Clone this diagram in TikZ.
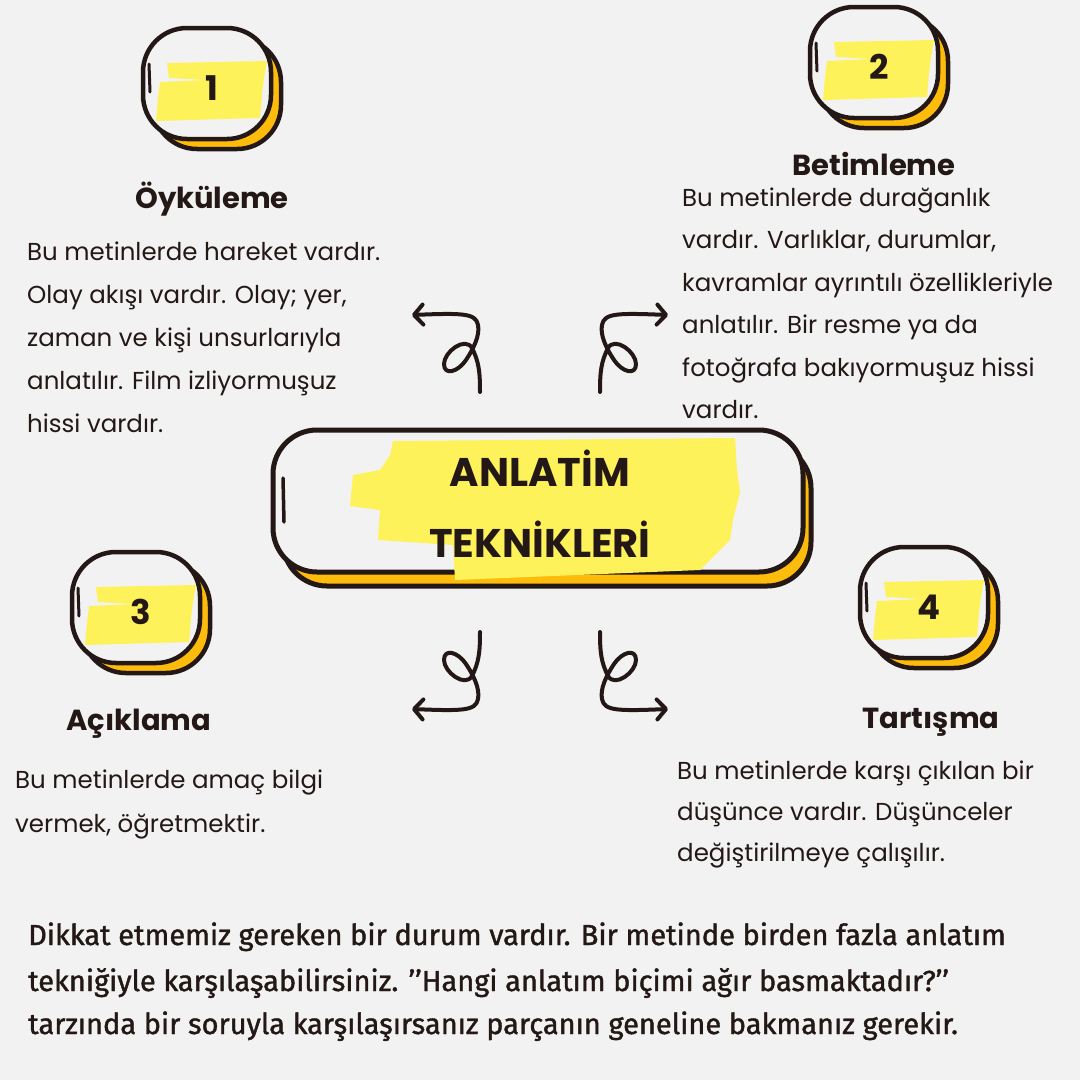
\documentclass[tikz,border=0pt]{standalone}
\usepackage{fontspec}
\setmainfont{Poppins}
\newfontfamily\bottomfont[FakeBold=1.3]{Fira Sans}
\usetikzlibrary{arrows.meta}
\definecolor{paper}{HTML}{F2F2F2}
\definecolor{ink}{HTML}{231815}
\definecolor{hl}{HTML}{FEF25B}
\definecolor{gold}{HTML}{FDBB0C}
\tikzset{
  body/.style={font=\fontsize{24.5}{30}\selectfont, text=ink, anchor=base west, inner sep=0pt},
  ttl/.style={font=\bfseries\fontsize{29}{34}\selectfont, text=ink, anchor=base, inner sep=0pt},
  numtxt/.style={font=\bfseries\fontsize{34}{40}\selectfont, text=ink, inner sep=0pt},
  central/.style={font=\bfseries\fontsize{40}{48}\selectfont, text=ink, anchor=base, inner sep=0pt},
  foot/.style={font=\bottomfont\fontsize{29}{34}\selectfont, text=ink, anchor=base west, inner sep=0pt},
  outline/.style={draw=ink, line width=4.5pt},
  sketch/.style={draw=ink, line width=3pt, line cap=round},
  curly/.style={draw=ink, line width=4pt, line cap=round, line join=round,
    -{Straight Barb[length=9pt,width=20pt,line cap=round,line join=round]}}
}
\newcommand\numbox[4]{%
  \begin{scope}[shift={(#1,#2)}]
    \path[outline, fill=gold, rounded corners=44pt] (10,10) rectangle (138,121);
    \path[outline, fill=paper, rounded corners=44pt] (0,0) rectangle (128,111);
    \fill[hl] (24,35) -- (124,33) -- (121,50) -- (119,66) -- (117,90) -- (13,93)
      -- (15,70) -- (17,54) -- (62,52) -- (26,50) -- cycle;
    \path[sketch] (6,36) -- (7,64);
    \node[numtxt] (#3) at (69,60) {#4};
  \end{scope}}
\newcommand\curlyarrow[2]{%
  \coordinate (#1s) at (480,392);
  \coordinate (#1e) at (412,315);
  \path[curly] (#1s) .. controls (480,372) and (479,362) .. (472,348)
    .. controls (465,336) and (444,352) .. (444,364)
    .. controls (444,376) and (458,372) .. (466,360)
    .. controls (474,348) and (480,335) .. (478,325)
    .. controls (476,313) and (462,313) .. (#1e);}
\begin{document}
\begin{tikzpicture}[x=1pt,y=-1pt]
\fill[paper] (0,0) rectangle (1080,1080);
\useasboundingbox (0,0) rectangle (1080,1080);

% number boxes
\numbox{143}{28}{n1}{1}
\numbox{810}{7}{n2}{2}
\numbox{72}{552}{n3}{3}
\numbox{860}{547}{n4}{4}

% titles
\node[ttl] (t1) at (212,208) {Öyküleme};
\node[ttl] (t2) at (874,175) {Betimleme};
\node[ttl] (t3) at (139,730) {Açıklama};
\node[ttl] (t4) at (931,728) {Tartışma};

% text block 1
\node[body] (a1) at (27,260) {Bu metinlerde hareket vardır.};
\node[body] (a2) at (27,303) {Olay akışı vardır. Olay; yer,};
\node[body] (a3) at (27,346) {zaman ve kişi unsurlarıyla};
\node[body] (a4) at (27,389) {anlatılır. Film izliyormuşuz};
\node[body] (a5) at (27,432) {hissi vardır.};

% text block 2
\node[body] (b1) at (682,206) {Bu metinlerde durağanlık};
\node[body] (b2) at (682,248) {vardır. Varlıklar, durumlar,};
\node[body] (b3) at (682,291) {kavramlar ayrıntılı özellikleriyle};
\node[body] (b4) at (682,333) {anlatılır. Bir resme ya da};
\node[body] (b5) at (682,376) {fotoğrafa bakıyormuşuz hissi};
\node[body] (b6) at (682,418) {vardır.};

% text block 3
\node[body] (c1) at (15,788) {Bu metinlerde amaç bilgi};
\node[body] (c2) at (15,832) {vermek, öğretmektir.};

% text block 4
\node[body] (d1) at (677,779) {Bu metinlerde karşı çıkılan bir};
\node[body] (d2) at (677,820) {düşünce vardır. Düşünceler};
\node[body] (d3) at (677,861) {değiştirilmeye çalışılır.};

% central box
\path[outline, line width=5pt, fill=gold, rounded corners=44pt] (283,444) rectangle (811,586);
\path[outline, line width=5pt, fill=paper, rounded corners=44pt] (273,430) rectangle (803,572);
\fill[hl] (393,441) -- (735,438) -- (737,470) -- (740,492) -- (733,520) -- (730,540)
  -- (700,570) -- (455,580) -- (453,545) -- (378,540) -- (380,510) -- (350,506)
  -- (353,475) -- (380,470) -- (390,455) -- cycle;
\path[sketch, line width=3.5pt] (283,478) -- (284,522);
\node[central] (m1) at (540,486) {ANLATİM};
\node[central] (m2) at (540,557) {TEKNİKLERİ};

% curly arrows
\curlyarrow{ar1}{}
\begin{scope}[xshift=1080pt, xscale=-1]\curlyarrow{ar2}{}\end{scope}
\begin{scope}[yshift=-1024pt, yscale=-1]\curlyarrow{ar3}{}\end{scope}
\begin{scope}[xshift=1080pt, xscale=-1, yshift=-1024pt, yscale=-1]\curlyarrow{ar4}{}\end{scope}

% bottom paragraph
\node[foot] (f1) at (28,945) {Dikkat etmemiz gereken bir durum vardır. Bir metinde birden fazla anlatım};
\node[foot] (f2) at (28,991) {tekniğiyle karşılaşabilirsiniz. ’’Hangi anlatım biçimi ağır basmaktadır?’’};
\node[foot] (f3) at (28,1034) {tarzında bir soruyla karşılaşırsanız parçanın geneline bakmanız gerekir.};
\end{tikzpicture}
\end{document}
